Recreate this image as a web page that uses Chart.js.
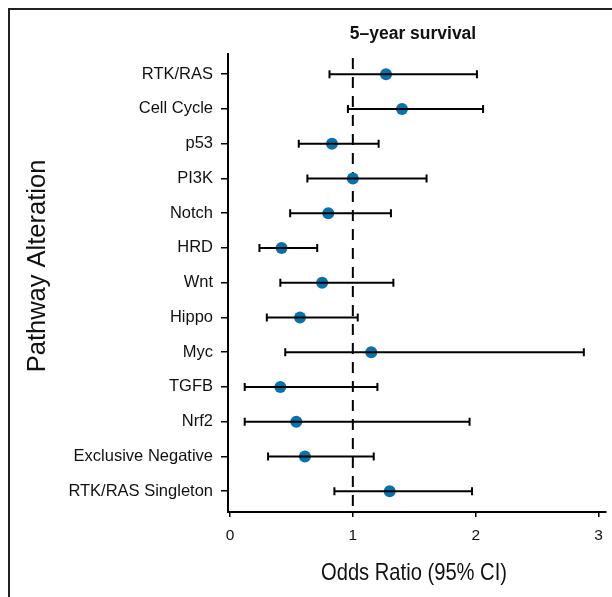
<!DOCTYPE html>
<html>
<head>
<meta charset="utf-8">
<script src="https://cdn.jsdelivr.net/npm/chart.js@4/dist/chart.umd.min.js"></script>
<style>
  html, body { margin: 0; padding: 0; background: #fff; }
  #wrap { position: relative; width: 612px; height: 597px; overflow: hidden; }
  #frame { position: absolute; left: 8px; top: 8px; width: 800px; height: 800px;
           border-left: 2px solid #222; border-top: 2px solid #222; }
  canvas { position: absolute; left: 0; top: 0; }
</style>
</head>
<body>
<div id="wrap">
  <div id="frame"></div>
  <canvas id="c" width="612" height="597"></canvas>
</div>
<script>
const categories = ["RTK/RAS", "Cell Cycle", "p53", "PI3K", "Notch", "HRD", "Wnt", "Hippo", "Myc", "TGFB", "Nrf2", "Exclusive Negative", "RTK/RAS Singleton"];
const oddsRatio = [1.27, 1.40, 0.83, 1.00, 0.80, 0.42, 0.75, 0.57, 1.15, 0.41, 0.54, 0.61, 1.30];
const ciLow     = [0.81, 0.96, 0.56, 0.63, 0.49, 0.24, 0.41, 0.30, 0.45, 0.12, 0.12, 0.31, 0.85];
const ciHigh    = [2.01, 2.06, 1.21, 1.60, 1.31, 0.71, 1.33, 1.04, 2.88, 1.20, 1.95, 1.17, 1.97];
const xTicks = [0, 1, 2, 3];
const referenceValue = 1;
const chartTitle = "5\u2013year survival";
const xTitle = "Odds Ratio (95% CI)";
const yTitle = "Pathway Alteration";

const SANS = "'Liberation Sans', Arial, Helvetica, sans-serif";

const points = oddsRatio.map((v, i) => ({ x: v, y: i + 1 }));

const extras = {
  id: 'extras',
  beforeDatasetsDraw(chart) {
    const { ctx, chartArea, scales: { x } } = chart;
    const px = x.getPixelForValue(referenceValue);
    ctx.save();
    ctx.strokeStyle = '#000';
    ctx.lineWidth = 2;
    ctx.setLineDash([11, 8]);
    ctx.beginPath();
    ctx.moveTo(px, chartArea.top + 4);
    ctx.lineTo(px, chartArea.bottom);
    ctx.stroke();
    ctx.restore();
  },
  afterDatasetsDraw(chart) {
    const { ctx, scales: { x, y } } = chart;
    ctx.save();
    ctx.strokeStyle = '#000';
    ctx.lineWidth = 2;
    ctx.setLineDash([]);
    for (let i = 0; i < categories.length; i++) {
      const py = y.getPixelForValue(i + 1);
      const x0 = x.getPixelForValue(ciLow[i]);
      const x1 = x.getPixelForValue(ciHigh[i]);
      ctx.beginPath();
      ctx.moveTo(x0, py); ctx.lineTo(x1, py);
      ctx.moveTo(x0, py - 4); ctx.lineTo(x0, py + 4);
      ctx.moveTo(x1, py - 4); ctx.lineTo(x1, py + 4);
      ctx.stroke();
    }
    ctx.restore();
  },
  afterDraw(chart) {
    const { ctx, chartArea } = chart;
    ctx.save();
    ctx.fillStyle = '#111';
    ctx.textAlign = 'center';
    ctx.textBaseline = 'middle';
    ctx.font = "bold 17.5px " + SANS;
    ctx.fillText(chartTitle, (chartArea.left + chartArea.right) / 2 - 4, 34);

    ctx.save();
    ctx.translate(414, 573);
    ctx.scale(0.84, 1);
    ctx.font = "24px " + SANS;
    ctx.fillText(xTitle, 0, 0);
    ctx.restore();

    ctx.translate(38, 266);
    ctx.rotate(-Math.PI / 2);
    ctx.font = "25.5px " + SANS;
    ctx.fillText(yTitle, 0, 0);
    ctx.restore();
  }
};

new Chart(document.getElementById('c'), {
  type: 'scatter',
  data: {
    datasets: [{
      data: points,
      pointRadius: 6,
      pointHoverRadius: 6,
      pointBackgroundColor: '#0a72a8',
      pointBorderWidth: 0
    }]
  },
  options: {
    responsive: false,
    animation: false,
    layout: { padding: { top: 54, left: 0, right: 5, bottom: 0 } },
    plugins: { legend: { display: false }, tooltip: { enabled: false }, title: { display: false } },
    scales: {
      x: {
        type: 'linear',
        min: -0.016,
        max: 3.06,
        afterBuildTicks: (s) => { s.ticks = xTicks.map(v => ({ value: v })); },
        afterFit: (s) => { s.height = 85; },
        grid: { drawOnChartArea: false, drawTicks: true, tickLength: 5, color: '#000', lineWidth: 1.5 },
        border: { display: true, color: '#000', width: 2 },
        ticks: { color: '#111', font: { family: SANS, size: 15.5 }, padding: 9 }
      },
      y: {
        type: 'linear',
        reverse: true,
        min: 0.42,
        max: 13.6,
        afterBuildTicks: (s) => { s.ticks = categories.map((_, i) => ({ value: i + 1 })); },
        afterFit: (s) => { s.width = 228; },
        grid: { drawOnChartArea: false, drawTicks: true, tickLength: 7, color: '#000', lineWidth: 1.5 },
        border: { display: true, color: '#000', width: 2 },
        ticks: {
          color: '#111',
          font: { family: SANS, size: 16.5 },
          padding: 8,
          autoSkip: false,
          callback: (v) => categories[Math.round(v) - 1] || ''
        }
      }
    }
  },
  plugins: [extras]
});
</script>
</body>
</html>
